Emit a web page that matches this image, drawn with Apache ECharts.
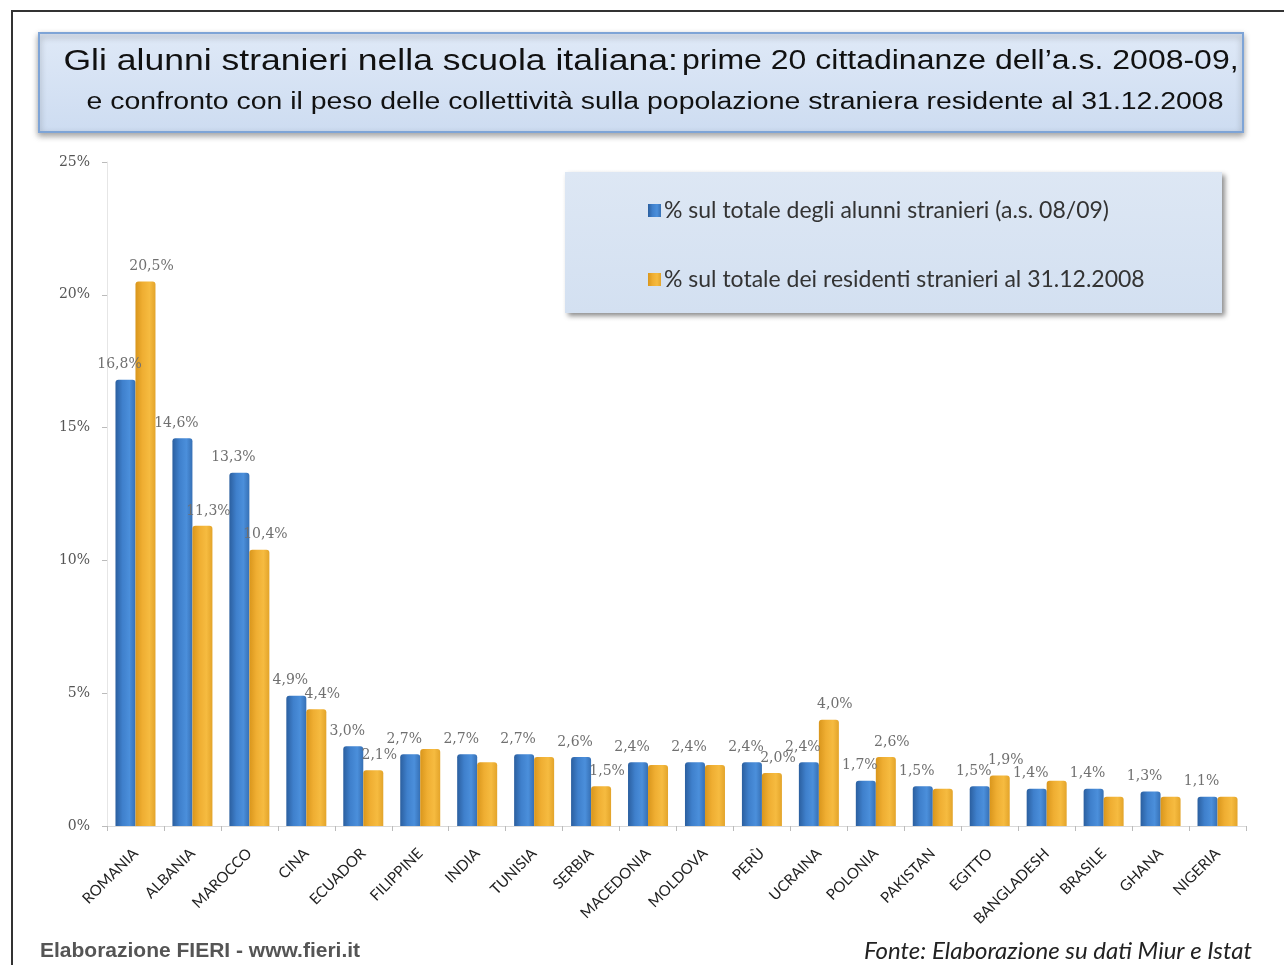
<!DOCTYPE html>
<html>
<head>
<meta charset="utf-8">
<script src="https://cdn.jsdelivr.net/npm/echarts@6/dist/echarts.min.js"></script>
<style>
  html, body { margin: 0; padding: 0; background: #ffffff; }
  #chart { width: 1284px; height: 965px; }
</style>
</head>
<body>
<div id="chart"></div>
<script>
// Top 20 nationalities of foreign pupils, school year 2008-09
const countries = ['ROMANIA', 'ALBANIA', 'MAROCCO', 'CINA', 'ECUADOR', 'FILIPPINE', 'INDIA', 'TUNISIA',
  'SERBIA', 'MACEDONIA', 'MOLDOVA', 'PERÙ', 'UCRAINA', 'POLONIA', 'PAKISTAN', 'EGITTO',
  'BANGLADESH', 'BRASILE', 'GHANA', 'NIGERIA'];

// % of all foreign pupils (a.s. 08/09)
const pupilsShare = [16.8, 14.6, 13.3, 4.9, 3.0, 2.7, 2.7, 2.7, 2.6, 2.4, 2.4, 2.4, 2.4, 1.7, 1.5, 1.5, 1.4, 1.4, 1.3, 1.1];
// % of all foreign residents at 31.12.2008
const residentsShare = [20.5, 11.3, 10.4, 4.4, 2.1, 2.9, 2.4, 2.6, 1.5, 2.3, 2.3, 2.0, 4.0, 2.6, 1.4, 1.9, 1.7, 1.1, 1.1, 1.1];
// which resident values carry a printed label
const residentsLabeled = [true, true, true, true, true, false, false, false, true, false, false, true, true, true, false, true, false, false, false, false];

const yTicks = { min: 0, max: 25, step: 5 };

const seriesNames = ['% sul totale degli alunni stranieri (a.s. 08/09)', '% sul totale dei residenti stranieri al 31.12.2008'];

const fmtPct = v => v.toFixed(1).replace('.', ',') + '%';

const blueFill = new echarts.graphic.LinearGradient(0, 0, 1, 0, [
  { offset: 0, color: '#2b5f9f' },
  { offset: 0.35, color: '#3f80cc' },
  { offset: 0.7, color: '#4b8fdb' },
  { offset: 1, color: '#3670b5' }
]);
const orangeFill = new echarts.graphic.LinearGradient(0, 0, 1, 0, [
  { offset: 0, color: '#d9961c' },
  { offset: 0.35, color: '#efae32' },
  { offset: 0.7, color: '#f6bb40' },
  { offset: 1, color: '#e3a42a' }
]);

const labelStyle = {
  show: true,
  position: 'top',
  distance: 8,
  fontFamily: 'DejaVu Serif',
  fontSize: 14,
  color: '#707070',
  formatter: p => fmtPct(p.value)
};

const chart = echarts.init(document.getElementById('chart'), null, { renderer: 'canvas' });

chart.setOption({
  animation: false,
  backgroundColor: '#ffffff',
  grid: { left: 107, right: 38, top: 162, bottom: 139, containLabel: false },
  legend: {
    orient: 'vertical',
    left: 643,
    top: 194,
    itemGap: 46,
    itemWidth: 13,
    itemHeight: 13,
    icon: 'rect',
    textStyle: { fontFamily: 'Lato', fontSize: 23, color: '#333333', padding: [0, 0, 0, -2] },
    data: seriesNames
  },
  xAxis: {
    type: 'category',
    data: countries,
    axisLine: { show: true, lineStyle: { color: '#d9d9d9' } },
    axisTick: { show: true, length: 5, lineStyle: { color: '#bbbbbb' } },
    axisLabel: {
      interval: 0,
      rotate: 45,
      margin: 25,
      fontFamily: 'Lato',
      fontSize: 15,
      color: '#222222'
    }
  },
  yAxis: {
    type: 'value',
    min: yTicks.min,
    max: yTicks.max,
    interval: yTicks.step,
    axisLine: { show: true, lineStyle: { color: '#e6e6e6' } },
    axisTick: { show: true, length: 5, lineStyle: { color: '#bbbbbb' } },
    splitLine: { show: false },
    axisLabel: {
      margin: 17,
      fontFamily: 'DejaVu Serif',
      fontSize: 14,
      color: '#555555',
      formatter: '{value}%'
    }
  },
  series: [
    {
      name: seriesNames[0],
      type: 'bar',
      barWidth: 20,
      barGap: '0%',
      itemStyle: { color: blueFill, borderRadius: [3, 3, 0, 0] },
      label: Object.assign({}, labelStyle, { offset: [-6, 0] }),
      data: pupilsShare
    },
    {
      name: seriesNames[1],
      type: 'bar',
      barWidth: 20,
      barGap: '0%',
      itemStyle: { color: orangeFill, borderRadius: [3, 3, 0, 0] },
      label: Object.assign({}, labelStyle, { offset: [6, 0] }),
      data: residentsShare.map((v, i) => ({ value: v, label: { show: residentsLabeled[i] } }))
    }
  ],
  graphic: [
    // outer frame
    {
      type: 'rect', z: -10, silent: true,
      shape: { x: 12, y: 11, width: 1290, height: 980 },
      style: { fill: 'none', stroke: '#333333', lineWidth: 2 }
    },
    // title box
    {
      type: 'rect', z: -5, silent: true,
      shape: { x: 39, y: 33, width: 1204, height: 99 },
      style: {
        fill: new echarts.graphic.LinearGradient(0, 0, 0, 1, [
          { offset: 0, color: '#dfe9f7' },
          { offset: 1, color: '#cddcf1' }
        ]),
        stroke: '#7ea4d6', lineWidth: 2,
        shadowBlur: 6, shadowColor: 'rgba(0,0,0,0.35)', shadowOffsetX: 0, shadowOffsetY: 3
      }
    },
    {
      type: 'text', z: 5, silent: true,
      x: 651, y: 62, scaleX: 1.185,
      style: {
        text: '{a|Gli alunni stranieri nella scuola italiana:} {b|prime 20 cittadinanze dell\u2019a.s. 2008-09,}',
        align: 'center', verticalAlign: 'middle',
        rich: {
          a: { fontFamily: 'Liberation Sans', fontSize: 30, fill: '#111111' },
          b: { fontFamily: 'Liberation Sans', fontSize: 27, fill: '#111111' }
        }
      }
    },
    {
      type: 'text', z: 5, silent: true,
      x: 655, y: 103, scaleX: 1.235,
      style: {
        text: 'e confronto con il peso delle collettività sulla popolazione straniera residente al 31.12.2008',
        align: 'center', verticalAlign: 'middle',
        fontFamily: 'Liberation Sans', fontSize: 23, fill: '#111111'
      }
    },
    // legend box
    {
      type: 'rect', z: -5, silent: true,
      shape: { x: 565, y: 172, width: 657, height: 141 },
      style: {
        fill: new echarts.graphic.LinearGradient(0, 0, 0, 1, [
          { offset: 0, color: '#dde7f4' },
          { offset: 1, color: '#d3e0f1' }
        ]),
        shadowBlur: 5, shadowColor: 'rgba(0,0,0,0.45)', shadowOffsetX: 3, shadowOffsetY: 3
      }
    },
    // footer
    {
      type: 'text', silent: true, x: 40, y: 951,
      style: {
        text: 'Elaborazione FIERI - www.fieri.it',
        align: 'left', verticalAlign: 'middle',
        fontFamily: 'Liberation Sans', fontSize: 21, fontWeight: 'bold', fill: '#555555'
      }
    },
    {
      type: 'text', silent: true, x: 1252, y: 951,
      style: {
        text: 'Fonte: Elaborazione su dati Miur e Istat',
        align: 'right', verticalAlign: 'middle',
        fontFamily: 'Lato', fontStyle: 'italic', fontSize: 24, fill: '#222222'
      }
    }
  ],
  color: ['#3f80cc', '#efae32']
});
</script>
</body>
</html>
